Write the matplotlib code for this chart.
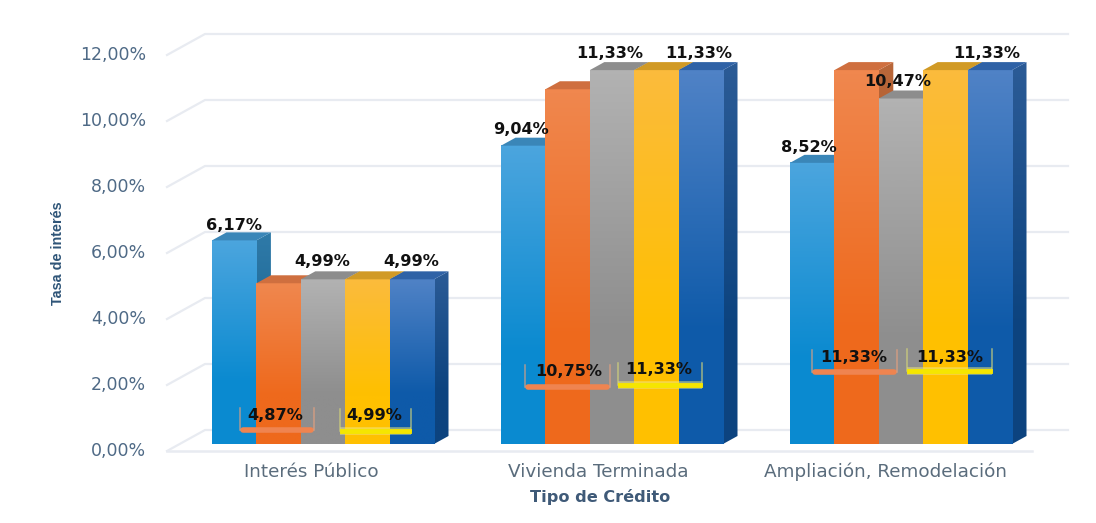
#Credit interest rates by type, 3D looking bars drawn by hand
import numpy as np
import matplotlib
matplotlib.use('Agg')
import matplotlib.pyplot as plt
from matplotlib.colors import LinearSegmentedColormap
from matplotlib.patches import Polygon

#Data
categories = ['Interés Público', 'Vivienda Terminada', 'Ampliación, Remodelación']
series_1 = [6.17, 9.04, 8.52]
series_2 = [4.87, 10.75, 11.33]
series_3 = [4.99, 11.33, 10.47]
series_4 = [4.99, 11.33, 11.33]
series_5 = [4.99, 11.33, 11.33]
y_ticks = [0, 2, 4, 6, 8, 10, 12]
y_tick_labels = ['0,00%', '2,00%', '4,00%', '6,00%', '8,00%', '10,00%', '12,00%']
all_series = [series_1, series_2, series_3, series_4, series_5]

#Face colours: front top, front bottom, side top, side bottom, roof
faces = [
    ('#4ba5de', '#0a8ad0', '#2f7aa8', '#14608f', '#3a86b8'),
    ('#f0874e', '#ee691c', '#b9673a', '#a84f1c', '#cf6f3f'),
    ('#b2b2b2', '#8e8e8e', '#8a8a8a', '#707070', '#8d8d8d'),
    ('#fbbb3c', '#ffc000', '#c99a2a', '#b58b10', '#d19a25'),
    ('#4f82c6', '#0e5aa9', '#2b5b96', '#0c437f', '#2f62a6'),
]

W, H = 1096, 523
PX_PER_UNIT = 289.0   #one category
PX_PER_PCT = 33.0
bar_w = 44.4 / PX_PER_UNIT
depth_x = 14.5 / PX_PER_UNIT
depth_y = 8 / PX_PER_PCT
x0 = 323.0
base_px = 444.0


def px(p):
    return (p - x0) / PX_PER_UNIT


def py(p):
    return (base_px - p) / PX_PER_PCT


fig = plt.figure(figsize=(W / 100, H / 100), dpi=100)
ax = fig.add_axes([0, 0, 1, 1])
ax.axis('off')

grid_c = '#e8ebf1'
back_off = 14 / PX_PER_PCT
front_off = -7 / PX_PER_PCT

#back wall grid
for v in y_ticks:
    ax.plot([px(167), px(205), px(1068)], [v + front_off, v + back_off, v + back_off],
            color=grid_c, lw=1.6, zorder=1)
ax.plot([px(167), px(1032)], [front_off, front_off], color=grid_c, lw=1.8, zorder=1)


def grad(c_top, c_bot, extent, clip=None, z=2):
    cmap = LinearSegmentedColormap.from_list('f', [(0, c_top), (0.7, c_bot), (1, c_bot)])
    im = ax.imshow(np.linspace(0, 1, 64).reshape(-1, 1), cmap=cmap, aspect='auto',
                   extent=extent, origin='upper', zorder=z, interpolation='bilinear')
    if clip is not None:
        patch = Polygon(clip, closed=True, transform=ax.transData, fc='none', ec='none')
        im.set_clip_path(patch)
    return im


z = 2.0
for g in range(len(categories)):
    for s, vals in enumerate(all_series):
        v = vals[g]
        left = g + (s - 2.5) * bar_w
        right = left + bar_w
        c = faces[s]
        #side
        side = [(right, 0), (right + depth_x, depth_y), (right + depth_x, v + depth_y), (right, v)]
        grad(c[2], c[3], (right, right + depth_x, 0, v + depth_y), side, z)
        #front
        grad(c[0], c[1], (left, right, 0, v), None, z + 0.01)
        #roof
        roof = [(left, v), (right, v), (right + depth_x, v + depth_y), (left + depth_x, v + depth_y)]
        ax.add_patch(Polygon(roof, closed=True, fc=c[4], ec='none', zorder=z + 0.02))
        z += 0.1

ax.set_xlim(px(0), px(W))
ax.set_ylim(py(H), py(0))

#value labels above bars (series, group, label centre x px, label centre y px)
top_labels = [(0, 0, 234, 225), (2, 0, 322, 262), (4, 0, 411, 262),
              (0, 1, 521, 129), (2, 1, 610, 53), (4, 1, 699, 53),
              (0, 2, 809, 147), (2, 2, 898, 82), (4, 2, 987, 53)]
for s, g, lx, ly in top_labels:
    v = all_series[s][g]
    ax.text(px(lx), py(ly), f'{v:.2f}%'.replace('.', ','), ha='center', va='center',
            fontsize=11.6, fontweight='bold', color='#111111', zorder=50)

#low labels with bracket (series, group, label x, label y, band left, band right, band y)
low_labels = [(1, 0, 275, 415, 240, 314, 430), (3, 0, 374, 415, 340, 411, 431),
              (1, 1, 569, 371, 525, 610, 387), (3, 1, 659, 369, 618, 702, 385),
              (1, 2, 854, 357, 812, 897, 372), (3, 2, 950, 357, 907, 992, 371)]
for s, g, lx, ly, b0, b1, by in low_labels:
    v = all_series[s][g]
    if s == 1:
        edge = '#e9a27e'
        ax.plot([px(b0 + 3), px(b1 - 3)], [py(by), py(by)], color='#ef8450', lw=4, zorder=40,
                solid_capstyle='round')
    else:
        edge = '#d8d878'
        ax.plot([px(b0), px(b1)], [py(by), py(by)], color='#f0ea80', lw=5.5, alpha=0.55, zorder=40,
                solid_capstyle='butt')
        ax.plot([px(b0 + 2), px(b1 - 2)], [py(by), py(by)], color='#f5e600', lw=3.5, zorder=41)
    for b in (b0, b1):
        ax.plot([px(b), px(b)], [py(by), py(by - 22)], color=edge, lw=1.1, alpha=0.7, zorder=40)
    ax.text(px(lx), py(ly), f'{v:.2f}%'.replace('.', ','), ha='center', va='center',
            fontsize=11.6, fontweight='bold', color='#111111', zorder=50)

#axis text
for v, lab in zip(y_ticks, y_tick_labels):
    ax.text(px(146), v + front_off, lab, ha='right', va='center',
            fontsize=12.5, color='#4f6a86', zorder=50)
cat_x = [311, 598, 886]
for g, cat in enumerate(categories):
    ax.text(px(cat_x[g]), py(472), cat, ha='center', va='center',
            fontsize=13.2, color='#5a6c7c', zorder=50)
ax.text(px(600), py(497), 'Tipo de Crédito', ha='center', va='center',
        fontsize=11.6, fontweight='bold', color='#3f5a78')
ax.text(px(58), py(253), 'Tasa de interés', ha='center', va='center',
        rotation=90, fontsize=10.4, fontweight='bold', color='#2f5578',
        family='Liberation Sans')

fig.savefig('out.png', dpi=100)
